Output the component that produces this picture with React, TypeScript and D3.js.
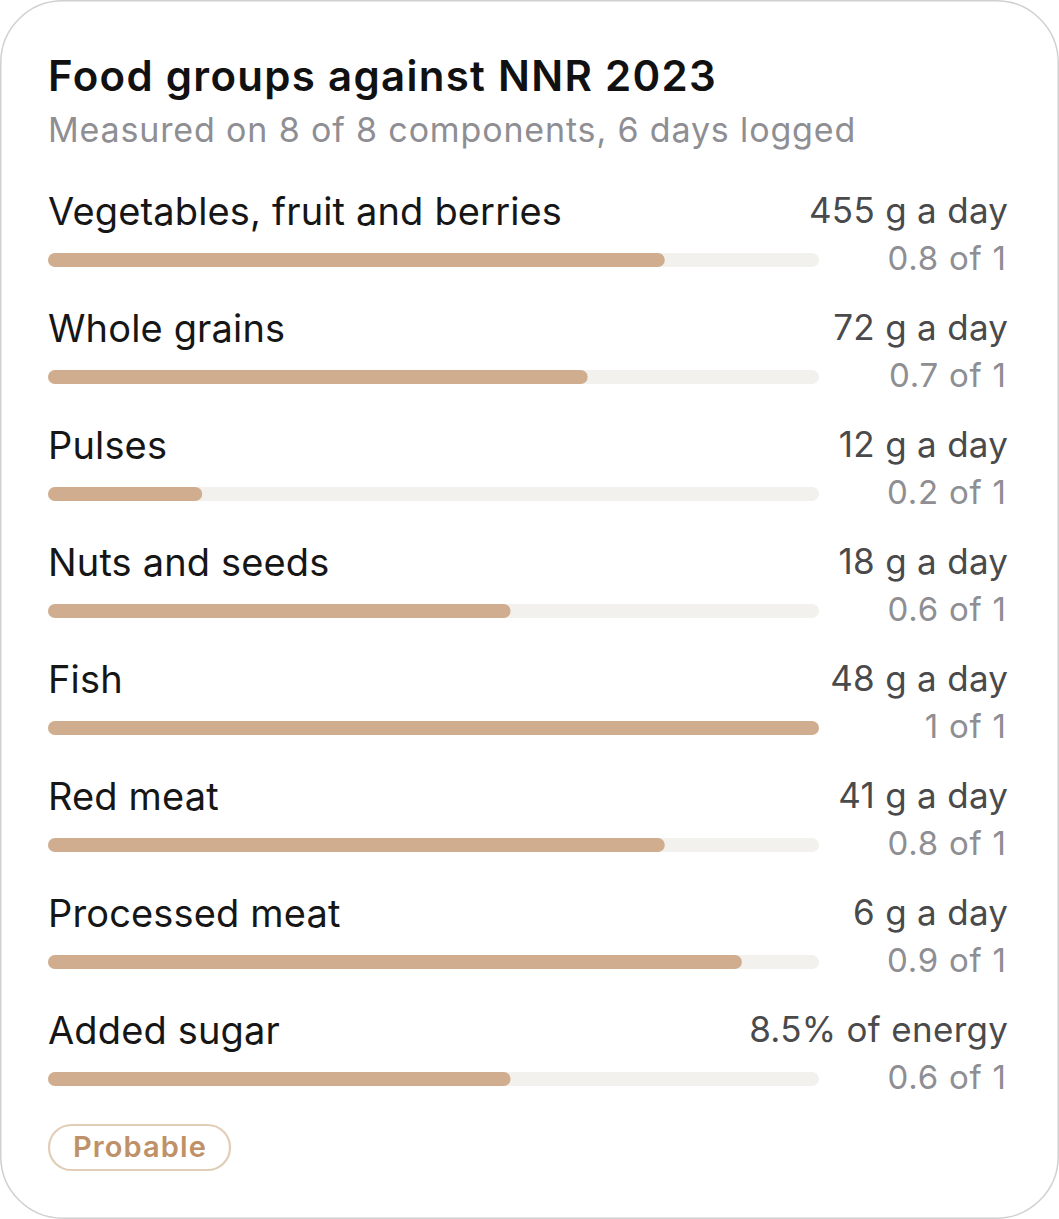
import React from "react";
import * as d3 from "d3";

const title = "Food groups against NNR 2023";
const subtitle = "Measured on 8 of 8 components, 6 days logged";
const categories = [
  "Vegetables, fruit and berries",
  "Whole grains",
  "Pulses",
  "Nuts and seeds",
  "Fish",
  "Red meat",
  "Processed meat",
  "Added sugar",
];
const amounts = [455, 72, 12, 18, 48, 41, 6, 8.5];
const units = ["g a day", "g a day", "g a day", "g a day", "g a day", "g a day", "g a day", "% of energy"];
const scores = [0.8, 0.7, 0.2, 0.6, 1, 0.8, 0.9, 0.6];
const scoreMax = 1;
const badge = "Probable";

const W = 1059;
const H = 1219;
const FONT = "Inter, 'Noto Sans', sans-serif";

export default function App() {
  const x = d3.scaleLinear().domain([0, scoreMax]).range([48, 819]);
  const rowY = d3.scaleLinear().domain([0, 1]).range([225, 342]);
  const fmt = (v: number) => d3.format("~g")(v);
  return (
    <svg
      width={W}
      height={H}
      viewBox={`0 0 ${W} ${H}`}
      style={{ position: "absolute", left: 0, top: 0, display: "block" }}
      fontFamily={FONT}
    >
      <rect x={0.75} y={0.75} width={W - 1.5} height={H - 1.5} rx={62} ry={62} fill="#fff" stroke="#d0d0d0" strokeWidth={1.5} />
      <text x={48} y={91} fontSize={42} fontWeight={600} fill="#111" letterSpacing={1.3}>{title}</text>
      <text x={48} y={142} fontSize={34} fill="#8e8e93" letterSpacing={0.85}>{subtitle}</text>
      {categories.map((c, i) => {
        const base = rowY(i);
        const barTop = base + 28;
        const unit = units[i];
        const valueText = unit.startsWith("%") ? `${fmt(amounts[i])}${unit}` : `${fmt(amounts[i])} ${unit}`;
        return (
          <g key={c}>
            <text x={48} y={base} fontSize={38} fill="#161616" letterSpacing={0.15}>{c}</text>
            <text x={1008.3} y={base - 2} fontSize={35} fill="#4a4a4c" textAnchor="end" letterSpacing={0.3}>{valueText}</text>
            <rect x={x(0)} y={barTop} width={x(scoreMax) - x(0)} height={14} rx={7} fill="#f2f1ee" />
            <rect x={x(0)} y={barTop} width={x(scores[i]) - x(0)} height={14} rx={7} fill="#cfad8e" />
            <text x={1006.7} y={base + 45} fontSize={33} fill="#8e8e93" textAnchor="end" letterSpacing={0.75}>{`${fmt(scores[i])} of ${scoreMax}`}</text>
          </g>
        );
      })}
      <rect x={49} y={1125} width={181} height={45} rx={22.5} fill="#fff" stroke="#e2cdb9" strokeWidth={2.2} />
      <text x={140} y={1157} fontSize={29} fontWeight={600} fill="#bf9168" textAnchor="middle" letterSpacing={1.1}>{badge}</text>
    </svg>
  );
}
